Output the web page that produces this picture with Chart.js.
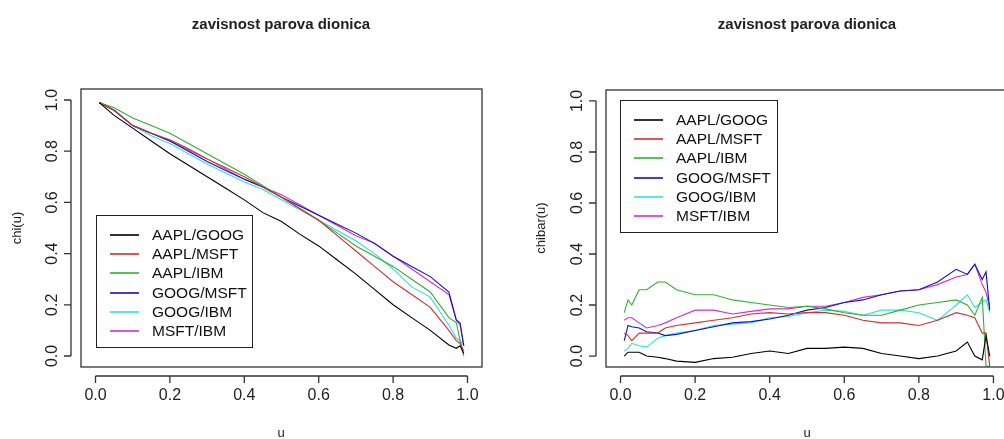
<!DOCTYPE html>
<html>
<head>
<meta charset="utf-8">
<script src="https://cdn.jsdelivr.net/npm/chart.js@4"></script>
<style>
body{margin:0;background:#fff;width:1004px;height:439px;overflow:hidden;position:relative}
canvas{position:absolute;top:0}
</style>
</head>
<body>
<div style="position:absolute;left:0;top:0;width:502px;height:439px"><canvas id="c1"></canvas></div>
<div style="position:absolute;left:502px;top:0;width:520px;height:439px"><canvas id="c2"></canvas></div>
<script>
var names = ['AAPL/GOOG','AAPL/MSFT','AAPL/IBM','GOOG/MSFT','GOOG/IBM','MSFT/IBM'];
var colors = ['#000000','#d03030','#30b030','#1010c0','#30e0e0','#d030d0'];
var ticks = [0, 0.2, 0.4, 0.6, 0.8, 1.0];

// chi(u)
var u1 = [0.01,0.05,0.1,0.15,0.2,0.25,0.3,0.35,0.4,0.45,0.5,0.55,0.6,0.65,0.7,0.75,0.8,0.85,0.9,0.95,0.97,0.98,0.99];
var chi_ag = [0.99,0.94,0.89,0.84,0.79,0.745,0.70,0.655,0.61,0.56,0.525,0.475,0.43,0.375,0.32,0.26,0.20,0.15,0.10,0.043,0.03,0.04,0.01];
var chi_am = [0.99,0.96,0.90,0.87,0.845,0.81,0.77,0.735,0.70,0.66,0.62,0.575,0.53,0.47,0.41,0.35,0.29,0.24,0.19,0.10,0.06,0.05,0.02];
var chi_ai = [0.99,0.97,0.93,0.90,0.87,0.83,0.79,0.75,0.71,0.665,0.62,0.575,0.53,0.48,0.43,0.39,0.35,0.30,0.25,0.15,0.13,0.06,0.0];
var chi_gm = [0.99,0.96,0.90,0.87,0.84,0.80,0.76,0.725,0.69,0.66,0.62,0.585,0.55,0.515,0.48,0.44,0.39,0.35,0.31,0.25,0.14,0.13,0.04];
var chi_gi = [0.99,0.96,0.90,0.86,0.83,0.79,0.75,0.715,0.68,0.65,0.61,0.57,0.53,0.49,0.45,0.40,0.34,0.27,0.23,0.12,0.07,0.06,0.04];
var chi_mi = [0.99,0.96,0.90,0.87,0.84,0.805,0.77,0.73,0.69,0.66,0.63,0.59,0.55,0.51,0.47,0.44,0.39,0.34,0.29,0.24,0.14,0.12,0.04];

// chibar(u)
var u2 = [0.01,0.02,0.03,0.05,0.07,0.1,0.12,0.15,0.2,0.25,0.3,0.35,0.4,0.45,0.5,0.55,0.6,0.65,0.7,0.75,0.8,0.85,0.9,0.93,0.95,0.97,0.98,0.99];
var cb_ag = [0.0,0.015,0.015,0.015,0.0,-0.005,-0.01,-0.02,-0.025,-0.01,-0.005,0.01,0.02,0.01,0.03,0.03,0.035,0.03,0.01,0.0,-0.01,0.0,0.02,0.055,0.0,-0.015,0.08,0.0];
var cb_am = [0.09,0.08,0.06,0.09,0.09,0.09,0.11,0.12,0.13,0.14,0.15,0.165,0.17,0.165,0.17,0.17,0.16,0.14,0.13,0.13,0.12,0.14,0.17,0.16,0.15,0.09,0.09,-0.04];
var cb_ai = [0.17,0.22,0.2,0.26,0.26,0.29,0.29,0.26,0.24,0.24,0.22,0.21,0.2,0.19,0.195,0.185,0.17,0.16,0.16,0.18,0.2,0.21,0.22,0.2,0.16,0.23,-0.04,-0.04];
var cb_gm = [0.06,0.12,0.115,0.11,0.095,0.09,0.08,0.085,0.1,0.115,0.13,0.135,0.145,0.16,0.18,0.19,0.21,0.22,0.24,0.255,0.26,0.29,0.34,0.32,0.36,0.3,0.33,0.18];
var cb_gi = [0.02,0.03,0.05,0.04,0.035,0.07,0.08,0.09,0.1,0.12,0.125,0.13,0.15,0.155,0.17,0.18,0.175,0.16,0.18,0.18,0.17,0.14,0.2,0.24,0.19,0.21,0.22,0.17];
var cb_mi = [0.14,0.15,0.15,0.13,0.11,0.12,0.13,0.15,0.18,0.18,0.165,0.175,0.185,0.185,0.195,0.195,0.21,0.23,0.24,0.255,0.26,0.28,0.31,0.32,0.36,0.28,0.25,0.19];

function sets(u, arrs) {
  return arrs.map(function(a, i) {
    return {
      label: names[i],
      data: a.map(function(v, k) { return {x: u[k], y: v}; }),
      borderColor: colors[i], borderWidth: 1.1, pointRadius: 0, tension: 0, fill: false
    };
  });
}

var rPlot = {
  id: 'rPlot',
  afterDraw: function(chart, args, o) {
    var ctx = chart.ctx, a = chart.chartArea;
    var xs = chart.scales.x, ys = chart.scales.y;
    ctx.save();
    ctx.strokeStyle = '#333'; ctx.lineWidth = 1.3;
    ctx.strokeRect(a.left, a.top, a.right - a.left, a.bottom - a.top);
    ctx.fillStyle = '#222';
    ctx.font = '16px Arial, "Liberation Sans"';
    // x axis
    var ay = a.bottom + 9;
    ctx.beginPath();
    ctx.moveTo(xs.getPixelForValue(0), ay); ctx.lineTo(xs.getPixelForValue(1), ay);
    ticks.forEach(function(t) {
      var px = xs.getPixelForValue(t);
      ctx.moveTo(px, ay); ctx.lineTo(px, ay + 7);
    });
    // y axis
    var ax = a.left - 10;
    ctx.moveTo(ax, ys.getPixelForValue(0)); ctx.lineTo(ax, ys.getPixelForValue(1));
    ticks.forEach(function(t) {
      var py = ys.getPixelForValue(t);
      ctx.moveTo(ax, py); ctx.lineTo(ax - 7, py);
    });
    ctx.stroke();
    ctx.textAlign = 'center'; ctx.textBaseline = 'middle';
    ticks.forEach(function(t) {
      ctx.fillText(t.toFixed(1), xs.getPixelForValue(t), a.bottom + 29);
      ctx.save();
      ctx.translate(a.left - 28, ys.getPixelForValue(t));
      ctx.rotate(-Math.PI / 2);
      ctx.fillText(t.toFixed(1), 0, 0);
      ctx.restore();
    });
    // axis titles
    ctx.font = '13px Arial, "Liberation Sans"';
    ctx.fillText('u', o.ux, 433);
    ctx.save();
    ctx.translate(o.ylx, 228); ctx.rotate(-Math.PI / 2);
    ctx.fillText(o.ylabel, 0, 0);
    ctx.restore();
    ctx.font = 'bold 15px Arial, "Liberation Sans"';
    ctx.fillText('zavisnost parova dionica', o.ux, 25);
    // legend
    var L = o.legend;
    ctx.strokeStyle = '#222'; ctx.lineWidth = 1;
    ctx.strokeRect(L.x + 0.5, L.y + 0.5, L.w, L.h);
    ctx.font = '15.5px Arial, "Liberation Sans"';
    ctx.textAlign = 'left';
    ctx.lineWidth = 1.6;
    chart.data.datasets.forEach(function(d, i) {
      var yy = Math.round(L.y + 20 + i * 19.2);
      ctx.strokeStyle = d.borderColor;
      ctx.beginPath(); ctx.moveTo(L.x + 14, yy); ctx.lineTo(L.x + 43, yy); ctx.stroke();
      ctx.fillStyle = '#111';
      ctx.fillText(d.label, L.x + 56, yy + 1);
    });
    ctx.restore();
  }
};

function make(id, u, arrs, pad, opts) {
  return new Chart(document.getElementById(id), {
    type: 'line',
    data: {datasets: sets(u, arrs)},
    plugins: [rPlot],
    options: {
      responsive: true, maintainAspectRatio: false, animation: false,
      layout: {padding: pad},
      scales: {
        x: {type: 'linear', min: -0.039, max: 1.039, display: false},
        y: {min: -0.043, max: 1.043, display: false}
      },
      plugins: {legend: {display: false}, tooltip: {enabled: false}, rPlot: opts}
    }
  });
}

make('c1', u1, [chi_ag, chi_am, chi_ai, chi_gm, chi_gi, chi_mi],
  {left: 81, right: 20, top: 89, bottom: 72},
  {ux: 281, ylx: 17, ylabel: 'chi(u)', legend: {x: 96, y: 215, w: 156, h: 132}});
make('c2', u2, [cb_ag, cb_am, cb_ai, cb_gm, cb_gi, cb_mi],
  {left: 104, right: 14, top: 90, bottom: 72},
  {ux: 305, ylx: 39, ylabel: 'chibar(u)', legend: {x: 118, y: 100, w: 157, h: 132}});
</script>
</body>
</html>
